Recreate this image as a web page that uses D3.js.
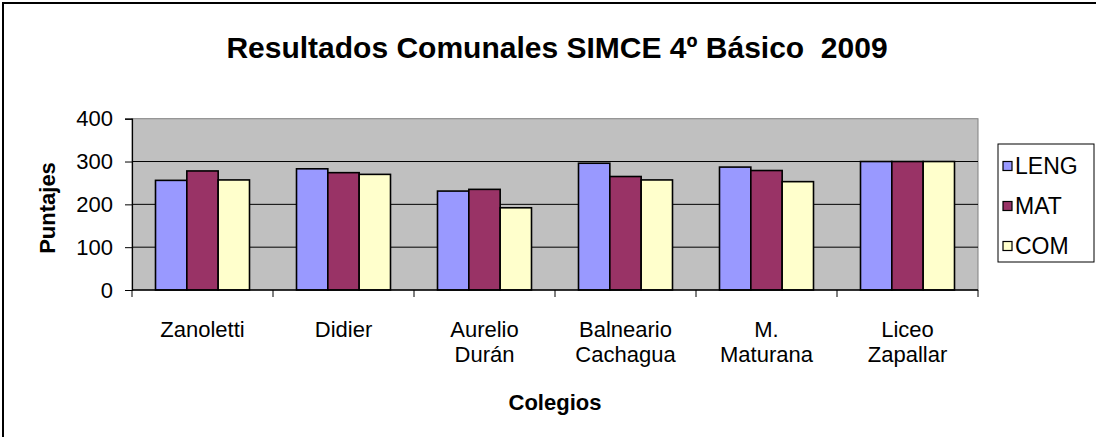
<!DOCTYPE html>
<html><head><meta charset="utf-8">
<script src="https://cdn.jsdelivr.net/npm/d3@7"></script>
<style>
html,body{margin:0;padding:0;background:#fff;}
svg{display:block;font-family:"Liberation Sans",Arial,sans-serif;}
text{white-space:pre;}
</style></head>
<body><svg id="c" width="1096" height="437"></svg>
<script>
const categories = [["Zanoletti"],["Didier"],["Aurelio","Durán"],["Balneario","Cachagua"],["M.","Maturana"],["Liceo","Zapallar"]];
const seriesNames = ["LENG","MAT","COM"];
const seriesColors = ["#9999FF","#993366","#FFFFCC"];
const leng = [256, 283, 231, 296, 287, 300];
const mat  = [278, 274, 235, 265, 279, 300];
const com  = [257, 270, 192, 257, 253, 300];
const yTicks = [0,100,200,300,400];
const title = "Resultados Comunales SIMCE 4º Básico  2009";
const yTitle = "Puntajes";
const xTitle = "Colegios";

const series = [leng, mat, com];
const svg = d3.select("#c");
const P = {left:132, right:978, top:118.7, bottom:290};

// outer border
svg.append("rect").attr("x",3).attr("y",3).attr("width",1200).attr("height",600)
  .attr("fill","#fff").attr("stroke","#000").attr("stroke-width",2);

const x = d3.scaleBand().domain(d3.range(categories.length)).range([P.left,P.right]).paddingInner(0).paddingOuter(0);
const y = d3.scaleLinear().domain([0,400]).range([P.bottom,P.top]);
const bw = x.bandwidth()/4.5;

// plot bg
svg.append("rect").attr("x",P.left).attr("y",P.top).attr("width",P.right-P.left).attr("height",P.bottom-P.top)
  .attr("fill","#C0C0C0").attr("stroke","#808080").attr("stroke-width",1);

// gridlines
svg.append("g").selectAll("line").data(yTicks.filter(d=>d>0 && d<400)).join("line")
  .attr("x1",P.left).attr("x2",P.right).attr("y1",d=>y(d)).attr("y2",d=>y(d))
  .attr("stroke","#000").attr("stroke-width",1);

// bars
const g = svg.append("g");
series.forEach((vals,si)=>{
  g.selectAll(null).data(vals).join("rect")
    .attr("x",(d,i)=>x(i)+0.75*bw+si*bw)
    .attr("y",d=>y(d))
    .attr("width",bw)
    .attr("height",d=>y(0)-y(d))
    .attr("fill",seriesColors[si])
    .attr("stroke","#000").attr("stroke-width",1.6);
});

// y axis
const ya = svg.append("g").attr("transform",`translate(${P.left},0)`)
  .call(d3.axisLeft(y).tickValues(yTicks).tickSize(7).tickPadding(12));
ya.select(".domain").attr("stroke","#000").attr("stroke-width",1.2);
ya.selectAll("line").attr("stroke","#000");
ya.selectAll("text").attr("font-size",22).attr("fill","#000").attr("font-family","Liberation Sans, Arial");

// x axis
svg.append("line").attr("x1",P.left).attr("x2",P.right).attr("y1",P.bottom).attr("y2",P.bottom)
  .attr("stroke","#000").attr("stroke-width",1.5);
const bounds = d3.range(categories.length+1).map(i=> i<categories.length ? x(i) : x(i-1)+x.bandwidth());
svg.append("g").selectAll("line").data(bounds).join("line")
  .attr("x1",d=>d).attr("x2",d=>d).attr("y1",P.bottom).attr("y2",P.bottom+7)
  .attr("stroke","#000").attr("stroke-width",1);
const xl = svg.append("g").selectAll("text").data(categories).join("text")
  .attr("text-anchor","middle").attr("font-size",22).attr("fill","#000")
  .attr("transform",(d,i)=>`translate(${x(i)+x.bandwidth()/2},0)`);
xl.each(function(lines){
  d3.select(this).selectAll("tspan").data(lines).join("tspan")
    .attr("x",0).attr("y",(d,j)=>337+j*25).text(d=>d);
});

// titles
svg.append("text").attr("x",557).attr("y",58).attr("text-anchor","middle")
  .attr("font-size",30).attr("font-weight","bold").text(title);
svg.append("text").attr("transform","translate(55,208) rotate(-90)").attr("text-anchor","middle")
  .attr("font-size",22).attr("font-weight","bold").text(yTitle);
svg.append("text").attr("x",(P.left+P.right)/2).attr("y",410).attr("text-anchor","middle")
  .attr("font-size",22).attr("font-weight","bold").text(xTitle);

// legend
const L = {x:998, y:144, w:96, h:118};
svg.append("rect").attr("x",L.x).attr("y",L.y).attr("width",L.w).attr("height",L.h)
  .attr("fill","#fff").attr("stroke","#000").attr("stroke-width",1);
const li = svg.append("g").selectAll("g").data(seriesNames).join("g")
  .attr("transform",(d,i)=>`translate(${L.x+5},${L.y+22+i*40})`);
li.append("rect").attr("x",0).attr("y",-4.5).attr("width",9).attr("height",9)
  .attr("fill",(d,i)=>seriesColors[i]).attr("stroke","#000").attr("stroke-width",1.2);
li.append("text").attr("x",12).attr("y",8).attr("font-size",23).text(d=>d);
</script></body></html>
